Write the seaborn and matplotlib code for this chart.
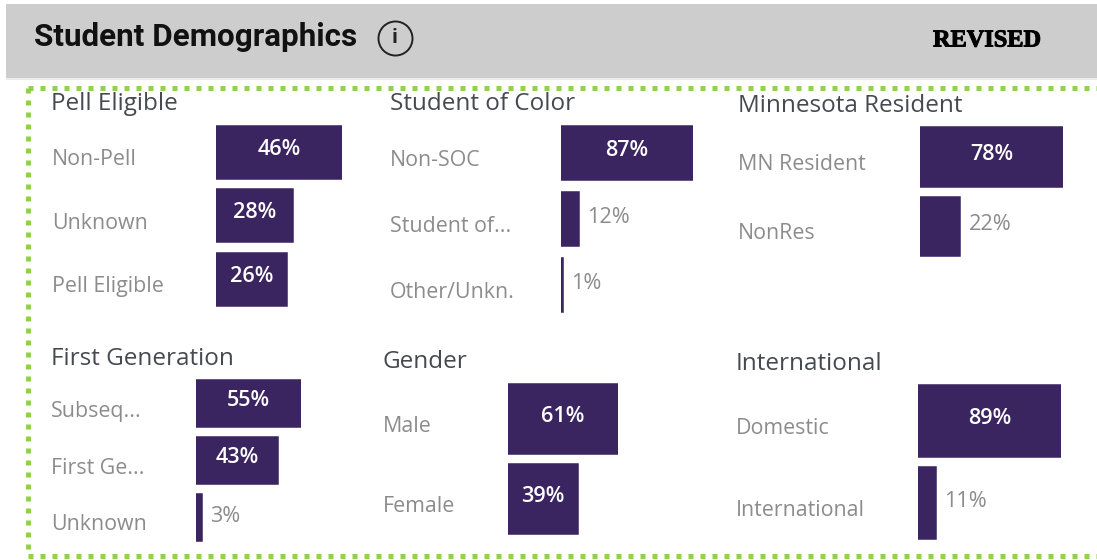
import matplotlib
matplotlib.use("Agg")
import matplotlib.pyplot as plt
import matplotlib.patheffects as pe
import seaborn as sns
from matplotlib.lines import Line2D
from matplotlib.patches import Rectangle
from matplotlib.transforms import ScaledTranslation

W, H = 1097, 560

pell_labels = ["Non-Pell", "Unknown", "Pell Eligible"]
pell_values = [46, 28, 26]
soc_labels = ["Non-SOC", "Student of...", "Other/Unkn."]
soc_values = [87, 12, 1]
mn_labels = ["MN Resident", "NonRes"]
mn_values = [78, 22]
gen_labels = ["Subseq...", "First Ge...", "Unknown"]
gen_values = [55, 43, 3]
gender_labels = ["Male", "Female"]
gender_values = [61, 39]
intl_labels = ["Domestic", "International"]
intl_values = [89, 11]

PURPLE = "#3b2560"
GREY = "#8c8c8c"
TITLE_GREY = "#454a50"
GREEN = "#92d050"

sns.set_theme(style="white")
plt.rcParams["font.family"] = ["Open Sans", "DejaVu Sans"]

fig = plt.figure(figsize=(W / 100, H / 100), dpi=100, facecolor="white")


def px_axes(x0, x1, y0, y1):
    return fig.add_axes([x0 / W, 1 - y1 / H, (x1 - x0) / W, (y1 - y0) / H])


def fig_text(x, y, s, **kw):
    return fig.text(x / W, 1 - y / H, s, **kw)


def draw_panel(title, title_x, title_y, labels, values, label_x, x0, x1, y0, y1, bar_w):
    # x1 is where the largest bar ends, so each panel has its own scale
    ax = px_axes(x0, x1, y0, y1)
    sns.barplot(x=values, y=labels, ax=ax, color=PURPLE, width=bar_w, orient="h", saturation=1,
                edgecolor=PURPLE, linewidth=1.1)
    ax.set_xlim(0, max(values))
    ax.set_ylim(len(values) - 0.5, -0.5)
    sns.despine(ax=ax, left=True, bottom=True)
    ax.set_xticks([])
    ax.set_xlabel("")
    ax.set_ylabel("")
    ax.tick_params(axis="y", length=0, pad=(x0 - label_x) * 0.72, labelsize=15.4, labelcolor=GREY)
    shift = ScaledTranslation(0, -5 / 100, fig.dpi_scale_trans)
    for lab in ax.get_yticklabels():
        lab.set_ha("left")
        lab.set_transform(lab.get_transform() + shift)
    for i, v in enumerate(values):
        if v >= 25:
            ax.annotate(f"{v}%", (v / 2, i), xytext=(0, 2), textcoords="offset points",
                        ha="center", va="center", color="white", fontsize=15.6, fontweight="semibold")
        else:
            ax.annotate(f"{v}%", (v, i), xytext=(6, 1), textcoords="offset points",
                        ha="left", va="center", color=GREY, fontsize=15.6)
    fig_text(title_x, title_y, title, fontsize=17.5, color=TITLE_GREY, va="center", ha="left")


# header band and the faint shadow under it
fig.add_artist(Rectangle((6 / W, 1 - 78 / H), (W - 6) / W, 74 / H, transform=fig.transFigure,
                         facecolor="#cdcdcd", edgecolor="none"))
fig.add_artist(Rectangle((6 / W, 1 - 80 / H), (W - 6) / W, 2 / H, transform=fig.transFigure,
                         facecolor="#ececec", edgecolor="none"))
fig_text(34, 36.5, "Student Demographics", fontsize=22.6, fontweight="bold", family=["Roboto", "DejaVu Sans"],
         color="#111111", va="center")
fig.add_artist(Line2D([395 / W], [1 - 38 / H], marker="o", ms=24.5, mfc="none", mec="#222222", mew=1.4,
                      transform=fig.transFigure))
fig_text(395, 38, "i", fontsize=14, fontweight="bold", color="#222222", ha="center", va="center")
revised = fig_text(987, 41, "REVISED", fontsize=17.5, fontweight="bold", family="Liberation Serif",
                   color="black", ha="center", va="center")
revised.set_path_effects([pe.withStroke(linewidth=0.7, foreground="black")])

# dotted green frame, open on the right like the source
for xs, ys in [((28, W), (88, 88)), ((28, 28), (88, 556)), ((28, W), (556, 556))]:
    fig.add_artist(Line2D([x / W for x in xs], [1 - y / H for y in ys], color=GREEN, lw=3.6,
                          linestyle=(0, (1, 1.4)), transform=fig.transFigure))

draw_panel("Pell Eligible", 51, 104, pell_labels, pell_values, 52, 216, 342, 120.5, 311, 0.835)
draw_panel("Student of Color", 390, 104, soc_labels, soc_values, 390, 561, 693, 120, 318, 0.83)
draw_panel("Minnesota Resident", 738, 106, mn_labels, mn_values, 738, 920, 1063, 122.5, 261, 0.86)
draw_panel("First Generation", 51, 359, gen_labels, gen_values, 51, 196, 301, 375, 546, 0.835)
draw_panel("Gender", 383, 362, gender_labels, gender_values, 383, 508, 618, 379, 539, 0.88)
draw_panel("International", 736, 364, intl_labels, intl_values, 736, 918, 1061, 380.5, 543.5, 0.88)

fig.savefig("out.png", dpi=100)
